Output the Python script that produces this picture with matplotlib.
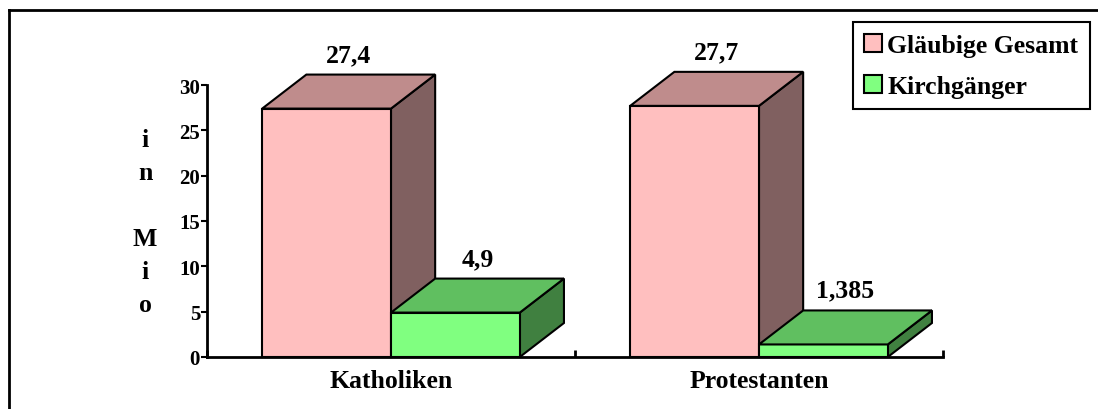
import matplotlib.pyplot as plt
from matplotlib.patches import Polygon, Rectangle
from matplotlib.lines import Line2D

# data
categories = ['Katholiken', 'Protestanten']
series_names = ['Gläubige Gesamt', 'Kirchgänger']
glaeubige = [27.4, 27.7]
kirchgaenger = [4.9, 1.385]
y_ticks = [0, 5, 10, 15, 20, 25, 30]

# colours: front, top, side
pink = ('#FFBFBF', '#BF8C8C', '#806060')
green = ('#80FF80', '#60BF60', '#408040')

plt.rcParams['font.family'] = ['Liberation Serif', 'DejaVu Serif']
plt.rcParams['font.weight'] = 'bold'

W, H = 1098, 410
fig = plt.figure(figsize=(W / 100, H / 100), dpi=100)
ax = fig.add_axes([207 / W, 1 - 358 / H, 736 / W, 272 / H])
ax.set_xlim(0, 2)
ax.set_ylim(0, 30)

bw = 0.35     # bar width (category units)
ddx = 0.12    # depth in x
ddy = 3.75    # depth in y


def bar3d(x0, val, cols):
    x1 = x0 + bw
    front = Rectangle((x0, 0), bw, val, fc=cols[0], ec='black', lw=1.5, clip_on=False)
    top = Polygon([(x0, val), (x0 + ddx, val + ddy), (x1 + ddx, val + ddy), (x1, val)],
                  closed=True, fc=cols[1], ec='black', lw=1.5, clip_on=False)
    side = Polygon([(x1, 0), (x1 + ddx, ddy), (x1 + ddx, val + ddy), (x1, val)],
                   closed=True, fc=cols[2], ec='black', lw=1.5, clip_on=False)
    for p in (side, front, top):
        ax.add_patch(p)


def label(x0, val):
    txt = f'{val:g}'.replace('.', ',')
    ax.annotate(txt, (x0 + bw / 2 + ddx / 2, val + ddy), xytext=(0, 14.5),
                textcoords='offset points', ha='center', va='center',
                fontsize=18.5, fontweight='bold', annotation_clip=False)


for i in range(len(categories)):
    c = i + 0.5
    bar3d(c - bw, glaeubige[i], pink)
    bar3d(c, kirchgaenger[i], green)
    label(c - bw, glaeubige[i])
    label(c, kirchgaenger[i])

ax.spines['top'].set_visible(False)
ax.spines['right'].set_visible(False)
ax.spines['left'].set_linewidth(2)
ax.spines['bottom'].set_linewidth(2)
ax.set_yticks(y_ticks)
ax.set_yticklabels([str(t) for t in y_ticks], fontsize=15, fontweight='bold')
ax.tick_params(axis='y', direction='out', length=4, width=1.5, pad=1)
ax.set_xticks([0, 1, 2])
ax.set_xticklabels(['', '', ''])
ax.tick_params(axis='x', direction='in', length=5, width=2)
for i, cat in enumerate(categories):
    ax.annotate(cat, (i + 0.5, 0), xytext=(0, -17), textcoords='offset points',
                ha='center', va='center', fontsize=18.5, fontweight='bold',
                annotation_clip=False)

fig.text(145 / W, 1 - 223 / H, 'i\nn\n\nM\ni\no', ha='center', va='center',
         fontsize=18.5, fontweight='bold', linespacing=1.55)

handles = [Rectangle((0, 0), 1, 1, fc=pink[0], ec='black', lw=1.5),
           Rectangle((0, 0), 1, 1, fc=green[0], ec='black', lw=1.5)]
leg = fig.legend(handles, series_names, loc='upper right',
                 bbox_to_anchor=(1090 / W, 1 - 23 / H), fancybox=False,
                 edgecolor='black', framealpha=1, prop={'size': 18.5, 'weight': 'bold'},
                 handlelength=0.7, handleheight=0.7, handletextpad=0.2,
                 labelspacing=0.7, borderpad=0.45, borderaxespad=0)
leg.get_frame().set_linewidth(1.5)

# outer frame (right and bottom sides are outside the picture)
fig.add_artist(Line2D([9 / W, 9 / W], [0, 1 - 11 / H], color='black', lw=2))
fig.add_artist(Line2D([9 / W, 1], [1 - 11 / H, 1 - 11 / H], color='black', lw=2))

fig.savefig('out.png', dpi=100)
